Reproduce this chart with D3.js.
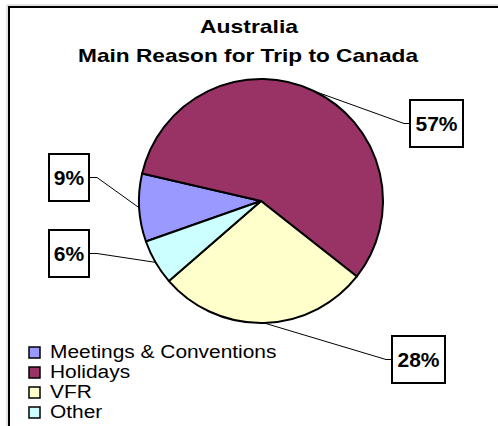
<!DOCTYPE html>
<meta charset="utf-8">
<script src="https://d3js.org/d3.v7.min.js"></script>
<style>
  body { margin: 0; background: #fff; }
  svg { display: block; font-family: "Liberation Sans", Arial, sans-serif; }
</style>
<body>
<svg width="498" height="426"></svg>
<script>

    // ---------------- data ----------------
    var categories = ["Meetings & Conventions", "Holidays", "VFR", "Other"];
    var shares     = [9, 57, 28, 6];
    var labels     = ["9%", "57%", "28%", "6%"];
    var colours    = ["#9999ff", "#993366", "#ffffcc", "#ccffff"];

    // label boxes (layout only): left, top, width, height
    var boxes = [
        [49, 154, 40, 47],
        [410, 100, 53, 47],
        [392, 336, 53, 47],
        [49, 230, 40, 47]
    ];

    var svg     = d3.select('svg');
    var origin  = [261, 201], radius = 122;
    var startAngle = -109.4 * Math.PI / 180;

    // chart frame (shadow + border)
    svg.append('path').attr('d', 'M7,430 V5 H500')
        .attr('fill', 'none').attr('stroke', '#c8c8c8').attr('stroke-width', 1);
    svg.append('path').attr('d', 'M9,430 V7 H500')
        .attr('fill', 'none').attr('stroke', '#000').attr('stroke-width', 2);

    // title (the original is drawn a bit wide, so stretch it)
    var title = svg.append('g').attr('font-weight', 'bold').attr('font-size', '19px').attr('fill', '#000');
    title.append('text').attr('x', 200).attr('y', 33)
        .attr('textLength', 98).attr('lengthAdjust', 'spacingAndGlyphs').text('Australia');
    title.append('text').attr('x', 78).attr('y', 62)
        .attr('textLength', 340).attr('lengthAdjust', 'spacingAndGlyphs')
        .text('Main Reason for Trip to Canada');

    var pie = d3.pie().sort(null).value(function(d){ return d; })
        .startAngle(startAngle).endAngle(startAngle + 2 * Math.PI);
    var arcs = pie(shares);
    var arc  = d3.arc().innerRadius(0).outerRadius(radius);

    var g = svg.append('g').attr('transform', 'translate(' + origin + ')');

    g.selectAll('path.slice').data(arcs).enter().append('path')
        .attr('class', 'slice')
        .attr('d', arc)
        .attr('fill', function(d, i){ return colours[i]; })
        .attr('stroke', '#000').attr('stroke-width', 2).attr('stroke-linejoin', 'round');

    // leader lines: from arc mid point to the side of the label box
    arcs.forEach(function(d, i) {
        var mid = (d.startAngle + d.endAngle) / 2;
        var px = origin[0] + radius * Math.sin(mid),
            py = origin[1] - radius * Math.cos(mid);
        var b = boxes[i];
        var cy = b[1] + b[3] / 2;
        var leftSide = b[0] > origin[0];
        var ex = leftSide ? b[0] : b[0] + b[2];
        var kx = leftSide ? ex - 6 : ex + 8;
        svg.append('path')
            .attr('d', 'M' + px + ',' + py + ' L' + kx + ',' + cy + ' H' + ex)
            .attr('fill', 'none').attr('stroke', '#000').attr('stroke-width', 1);

        svg.append('rect').attr('x', b[0]).attr('y', b[1])
            .attr('width', b[2]).attr('height', b[3])
            .attr('fill', '#fff').attr('stroke', '#000').attr('stroke-width', 2);
        svg.append('text').attr('x', b[0] + b[2] / 2).attr('y', cy + 7.5)
            .attr('text-anchor', 'middle').attr('font-weight', 'bold')
            .attr('font-size', '21px').text(labels[i]);
    });

    // legend (rows are tight in the original; text is widened instead of enlarged)
    var legend = svg.selectAll('g.legend').data(categories).enter().append('g')
        .attr('class', 'legend')
        .attr('transform', function(d, i){ return 'translate(29,' + (358 + i * 20) + ')'; });
    legend.append('rect').attr('x', 0).attr('y', -11).attr('width', 11).attr('height', 11)
        .attr('fill', function(d, i){ return colours[i]; })
        .attr('stroke', '#000').attr('stroke-width', 1.5);
    legend.append('text').attr('transform', 'translate(21,0) scale(1.23,1.08)')
        .attr('font-size', '17px').text(function(d){ return d; });
</script>
</body>
